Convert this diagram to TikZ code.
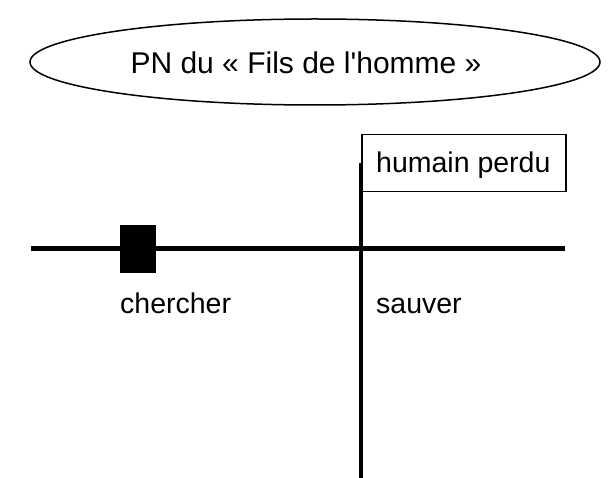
\documentclass[tikz,border=0pt]{standalone}
\usepackage{fontspec}
\setmainfont{Liberation Sans}
\newfontfamily\plainsans{Liberation Sans}
\usetikzlibrary{shapes.geometric}
\begin{document}
\begin{tikzpicture}[x=1pt,y=-1pt,
  thickline/.style={line width=4.5pt},
  lbl/.style={inner sep=0pt,anchor=base west,font=\fontsize{28.5}{30}\selectfont},
  titlebox/.style={draw,ellipse,line width=1.5pt,minimum width=570pt,minimum height=86pt,inner sep=0pt},
  actbox/.style={draw,line width=1.5pt,minimum width=204pt,minimum height=57pt,inner sep=0pt},
  blocker/.style={fill=black,minimum width=36pt,minimum height=48pt,inner sep=0pt}]
\useasboundingbox (0,0) rectangle (609,478);
\node[titlebox] (title) at (315,62) {};
\node[inner sep=0pt,font=\plainsans\fontsize{30}{32}\selectfont] (tt) at (306,63) {PN du « Fils de l'homme »};
\node[actbox] (pers) at (464,163) {};
\node[lbl] (persl) at (376,173) {humain perdu};
\coordinate (hl) at (31,248.5);
\coordinate (hr) at (565,248.5);
\coordinate (vt) at (361,163);
\coordinate (vb) at (361,478);
\draw[thickline] (hl) -- (hr);
\draw[thickline] (vt) -- (vb);
\node[blocker] (blk) at (138,248.5) {};
\node[lbl] (ch) at (120,313) {chercher};
\node[lbl] (sv) at (376,313) {sauver};
\end{tikzpicture}
\end{document}
